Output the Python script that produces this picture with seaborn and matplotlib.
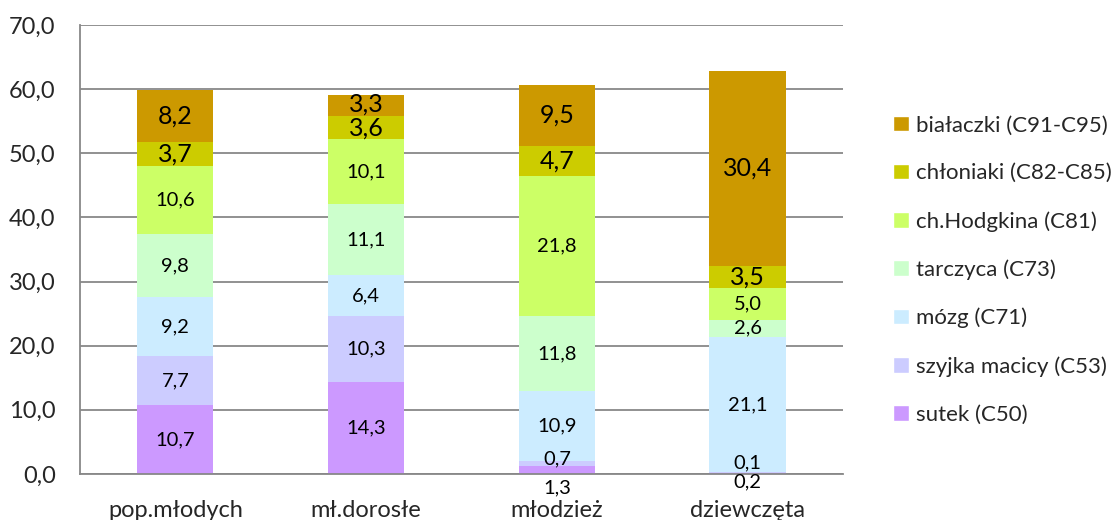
import numpy as np
import pandas as pd
import matplotlib
matplotlib.use("Agg")
import matplotlib.pyplot as plt
from matplotlib.patches import Patch
from matplotlib.ticker import FuncFormatter, MultipleLocator
import seaborn as sns

groups = ['pop.młodych', 'mł.dorosłe', 'młodzież', 'dziewczęta']
series = ['sutek (C50)', 'szyjka macicy (C53)', 'mózg (C71)', 'tarczyca (C73)',
          'ch.Hodgkina (C81)', 'chłoniaki (C82-C85)', 'białaczki (C91-C95)']
sutek = [10.7, 14.3, 1.3, 0.2]
szyjka = [7.7, 10.3, 0.7, 0.1]
mozg = [9.2, 6.4, 10.9, 21.1]
tarczyca = [9.8, 11.1, 11.8, 2.6]
hodgkin = [10.6, 10.1, 21.8, 5.0]
chloniaki = [3.7, 3.6, 4.7, 3.5]
bialaczki = [8.2, 3.3, 9.5, 30.4]
colors = ['#CC99FF', '#CCCCFF', '#CCECFF', '#CCFFCC', '#CCFF66', '#CCCC00', '#CC9900']

values = np.array([sutek, szyjka, mozg, tarczyca, hodgkin, chloniaki, bialaczki])

rows = []
for s, vals in zip(series, values):
    for g, v in zip(groups, vals):
        rows.append({'grupa': g, 'nowotwor': s, 'wartosc': v})
df = pd.DataFrame(rows)

sns.set_style('white')
plt.rcParams['font.family'] = ['Lato', 'DejaVu Sans']

fig = plt.figure(figsize=(11.15, 5.2), dpi=100)
ax = fig.add_axes([0.0717, 0.0885, 0.6843, 0.8635])

sns.histplot(df, x='grupa', weights='wartosc', hue='nowotwor',
             hue_order=series[::-1], palette=dict(zip(series, colors)),
             multiple='stack', discrete=True, shrink=0.4,
             alpha=1, linewidth=0, legend=False, ax=ax)

# value labels, Excel nudges the tiny ones off the stack
shift = {(2, 0): -2.85, (2, 1): 0.65, (3, 0): -1.4, (3, 1): 1.45,
         (1, 5): -0.15, (1, 6): 0.15}
bottoms = np.vstack([np.zeros(4), np.cumsum(values, axis=0)[:-1]])
for i in range(len(series)):
    size = 18 if i >= 5 else 14.5
    for j in range(len(groups)):
        y = bottoms[i, j] + values[i, j] / 2 + shift.get((j, i), 0)
        ax.text(j, y, f'{values[i, j]:.1f}'.replace('.', ','),
                ha='center', va='center', fontsize=size, color='black')

ax.set_xlim(-0.5, 3.5)
ax.set_ylim(0, 70)
ax.yaxis.set_major_locator(MultipleLocator(10))
ax.yaxis.set_major_formatter(FuncFormatter(lambda v, p: f'{v:.1f}'.replace('.', ',')))
ax.set_xticks(range(4))
ax.set_xticklabels(groups)
ax.set_xticks(np.arange(-0.5, 4, 1), minor=True)
ax.tick_params(axis='x', which='major', length=0, pad=19, labelsize=17)
ax.tick_params(axis='x', which='minor', length=5.5, width=1.3, color='#888888')
ax.tick_params(axis='y', length=5.5, width=1.3, color='#888888', labelsize=17, pad=12)
ax.set_xlabel('')
ax.set_ylabel('')
ax.grid(axis='y', color='#888888', linewidth=1.3)
ax.set_axisbelow(True)
for side in ['top', 'right']:
    ax.spines[side].set_visible(False)
for side in ['left', 'bottom']:
    ax.spines[side].set_color('#888888')
    ax.spines[side].set_linewidth(1.3)

handles = [Patch(facecolor=c, label=s) for s, c in zip(series, colors)][::-1]
fig.legend(handles=handles, loc='upper left', bbox_to_anchor=(0.793, 0.795),
           frameon=False, fontsize=16, handlelength=0.7, handleheight=0.7,
           handletextpad=0.35, labelspacing=1.25, borderaxespad=0)

fig.savefig('out.png', dpi=100)
